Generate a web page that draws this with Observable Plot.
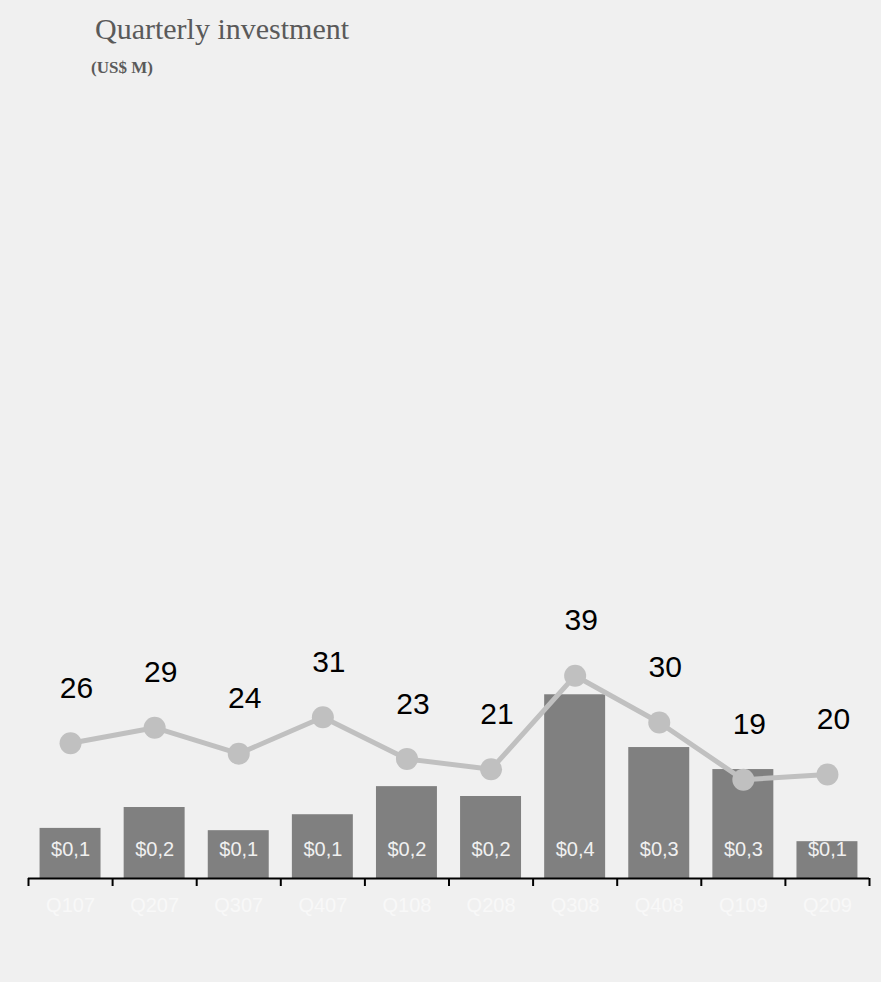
<!DOCTYPE html>
<html>
<head>
<meta charset="utf-8">
<script src="https://cdn.jsdelivr.net/npm/d3@7"></script>
<script src="https://cdn.jsdelivr.net/npm/@observablehq/plot@0.6"></script>
<style>
  html, body { margin: 0; padding: 0; background: #f0f0f0; }
  #wrap { width: 881px; height: 982px; background: #f0f0f0; position: relative; overflow: hidden; }
  #head { position: relative; height: 90px; }
  #title { position: absolute; left: 95px; top: 14px; font-family: "Liberation Serif", serif; font-size: 30px; color: #5a5a5a; line-height: 1; }
  #sub { position: absolute; left: 91px; top: 59px; font-family: "Liberation Serif", serif; font-size: 17px; font-weight: bold; color: #5a5a5a; line-height: 1; }
  g[aria-label="barlabels"] text { letter-spacing: 1.5px; }
  g[aria-label="quarterlabels"] text { letter-spacing: 2.5px; }
</style>
</head>
<body>
<div id="wrap">
  <div id="head">
    <div id="title">Quarterly investment</div>
    <div id="sub">(US$ M)</div>
  </div>
  <div id="chart"></div>
</div>
<script>
const quarters = ["Q107","Q207","Q307","Q407","Q108","Q208","Q308","Q408","Q109","Q209"];
const lineValues = [26, 29, 24, 31, 23, 21, 39, 30, 19, 20];
const barValues = [0.132, 0.187, 0.126, 0.168, 0.242, 0.216, 0.484, 0.345, 0.287, 0.097];
const barLabels = ["$0,1","$0,2","$0,1","$0,1","$0,2","$0,2","$0,4","$0,3","$0,3","$0,1"];

const barToLine = 73; // bars share the baseline but use their own unit
const data = quarters.map((q, i) => ({
  q, i, v: lineValues[i], b: barValues[i] * barToLine, bl: barLabels[i]
}));

const inset = 0.1375;
const font = "Liberation Sans, Arial, sans-serif";

const chart = Plot.plot({
  width: 881,
  height: 892,
  marginLeft: 28,
  marginRight: 12,
  marginTop: 268,
  marginBottom: 104,
  style: { background: "#f0f0f0", fontFamily: font },
  x: { type: "linear", domain: [0, 10], axis: null },
  y: { domain: [0, 100], axis: null },
  marks: [
    Plot.rectY(data, { x1: d => d.i + inset, x2: d => d.i + 1 - inset, y1: 0, y2: "b", fill: "#808080" }),
    Plot.text(data, { x: d => d.i + 0.5, y: 0, dy: -29, text: "bl", fill: "#f0f0f0", fontSize: 20, fontFamily: font, ariaLabel: "barlabels" }),
    Plot.line(data, { x: d => d.i + 0.5, y: "v", stroke: "#c0c0c0", strokeWidth: 5 }),
    Plot.dot(data, { x: d => d.i + 0.5, y: "v", r: 11, fill: "#c0c0c0", stroke: "none" }),
    Plot.text(data, { x: d => d.i + 0.5, y: "v", dy: -55, dx: 6, text: d => String(d.v), fill: "#000", fontSize: 30, fontFamily: font }),
    Plot.ruleY([0], { stroke: "#000", strokeWidth: 2 }),
    Plot.axisX({ ticks: d3.range(11), tickSize: 8, tickFormat: () => "", stroke: "#000", strokeWidth: 2 }),
    Plot.text(data, { x: d => d.i + 0.5, y: 0, dy: 27, text: "q", fill: "#f8f8f8", fontSize: 20, fontFamily: font, ariaLabel: "quarterlabels" })
  ]
});
document.getElementById("chart").appendChild(chart);
</script>
</body>
</html>
